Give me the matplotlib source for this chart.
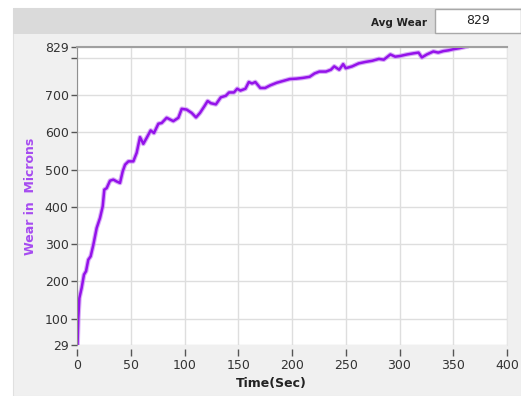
import matplotlib.pyplot as plt
from matplotlib.patches import Rectangle

# wear curve
time_sec = [0, 0.5, 1.2, 2.2, 4.3, 6.5, 8.4, 10.5, 12.7, 15.2, 18.3, 21.4, 23.9,
            25.4, 27.6, 30.7, 33.8, 36.9, 40, 42.5, 44.7, 47.8, 52.4, 55.5,
            58.6, 61.7, 64.8, 68.5, 71.6, 75.7, 78.8, 83.4, 89.6, 94.3, 97.4,
            102, 106.7, 110.7, 114.4, 118.5, 121.5, 124.6, 129.2, 133.8,
            138.4, 141.4, 146, 149, 152, 156.7, 159.8, 162.8, 165.9, 170.5,
            175, 179.7, 185.8, 191.9, 198, 204, 210, 216.4, 221, 225.5,
            231.6, 236.2, 239.3, 243.9, 247.6, 250, 256, 262, 268.5, 274.6,
            280.8, 285.4, 291.5, 296, 300.8, 307, 313, 317.7, 320.8, 325.4,
            331.5, 336, 340.8, 345.4, 350, 356, 362]
wear = [29, 29, 101, 155, 182, 218, 227, 258, 267, 298, 343, 370, 401,
        446, 450, 470, 473, 468, 464, 495, 513, 522, 522, 545,
        587, 569, 585, 605, 598, 623, 625, 639, 630, 639, 663,
        661, 652, 640, 652, 670, 684, 678, 675, 694,
        698, 707, 707, 717, 712, 717, 735, 731, 735, 719,
        719, 726, 733, 738, 743, 744, 746, 749, 758, 763,
        763, 768, 777, 768, 783, 772, 777, 785, 789, 792,
        797, 795, 809, 803, 805, 809, 812, 814, 801, 809,
        817, 814, 818, 820, 823, 826, 830]

y_ticks = [29, 100, 200, 300, 400, 500, 600, 700, 800, 829]
y_labels = ['29', '100', '200', '300', '400', '500', '600', '700', '', '829']
x_ticks = [0, 50, 100, 150, 200, 250, 300, 350, 400]
avg_wear = 829

W, H = 521, 396
fig = plt.figure(figsize=(W / 100, H / 100), dpi=100, facecolor='white')

def px_rect(x0, y0, x1, y1, **kw):
    # rectangle given in image pixels (origin top-left), kept behind the axes
    fig.patches.append(Rectangle((x0 / W, 1 - y1 / H), (x1 - x0) / W, (y1 - y0) / H,
                                 transform=fig.transFigure, figure=fig, zorder=-10, **kw))

px_rect(13, 8, 521, 396, facecolor='#f0f0f0', edgecolor='#e0e0e0', lw=0.8)
px_rect(13, 8, 435, 34, facecolor='#dadada', edgecolor='none')
px_rect(435, 9, 521, 33, facecolor='white', edgecolor='#a8a8a8', lw=1)
fig.text(427 / W, 1 - 23 / H, 'Avg Wear', ha='right', va='center',
         fontsize=7.5, fontweight='bold', color='#222222')
fig.text(478 / W, 1 - 20 / H, str(avg_wear), ha='center', va='center',
         fontsize=9, color='#222222')

ax = fig.add_axes([77 / W, 1 - 345 / H, 430 / W, (345 - 47) / H])
ax.set_facecolor('white')
# soft halo under the trace, like the screenshot's anti-aliasing
ax.plot(time_sec, wear, color='#c98cf5', lw=3.4, alpha=0.7, solid_joinstyle='round')
ax.plot(time_sec, wear, color='#9412ea', lw=1.8, solid_joinstyle='round')
ax.set_xlim(0, 400)
ax.set_ylim(29, 829)
ax.set_xticks(x_ticks)
ax.set_yticks(y_ticks)
ax.set_yticklabels(y_labels)
ax.grid(True, color='#dedede', lw=1)
ax.set_axisbelow(True)

ax.spines['top'].set_color('#a0a0a0')
ax.spines['top'].set_linewidth(1.5)
ax.spines['right'].set_color('#e6e6e6')
ax.spines['left'].set_color('#909090')
ax.spines['bottom'].set_position(('outward', 3))
ax.spines['bottom'].set_visible(False)
ax.tick_params(axis='y', length=4, width=1, color='#555555', labelsize=9,
               labelcolor='#333333', pad=2)
ax.tick_params(axis='x', length=5, width=1, color='#555555', labelsize=9,
               labelcolor='#333333', pad=2)

fig.text(271 / W, 1 - 383 / H, 'Time(Sec)', ha='center', va='center',
         fontsize=9, fontweight='bold', color='#222222')
fig.text(30 / W, 1 - 196 / H, 'Wear in  Microns', ha='center', va='center',
         rotation=90, fontsize=9, fontweight='bold', color='#a64bf0')

fig.savefig('out.png', dpi=100, facecolor=fig.get_facecolor())
